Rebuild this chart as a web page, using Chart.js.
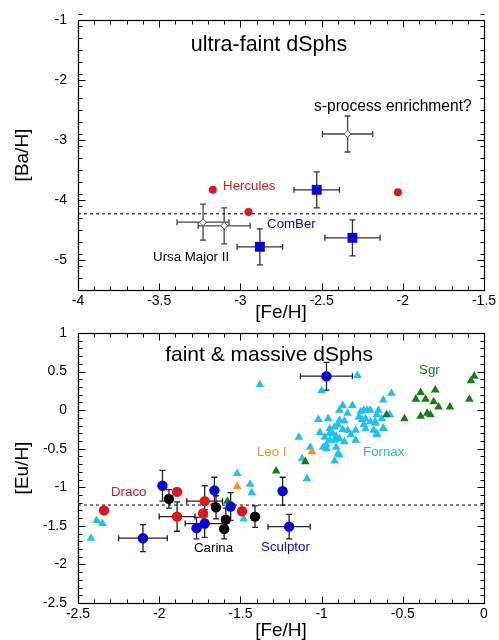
<!DOCTYPE html>
<html><head><meta charset="utf-8">
<script src="https://cdn.jsdelivr.net/npm/chart.js@4.4.1/dist/chart.umd.min.js"></script>
<style>
html,body{margin:0;padding:0;background:#fff;}
#c1{position:absolute;left:0;top:0;}
#c2{position:absolute;left:0;top:322px;}
</style></head><body>
<canvas id="c1" width="499" height="322"></canvas>
<canvas id="c2" width="499" height="318"></canvas>
<script>
// ---------- DATA: top panel (ultra-faint dSphs), [Fe/H] vs [Ba/H] ----------
const topFeTicks = [-4, -3.5, -3, -2.5, -2, -1.5];
const topBaTicks = [-1, -2, -3, -4, -5];
const topFeRange = [-4, -1.5];
const topBaRange = [-5.5, -1];
const herculesBa = [[-3.17, -3.83], [-2.95, -4.20], [-2.03, -3.87]];
const comberBa = [[-2.53, -3.83], [-2.88, -4.78], [-2.31, -4.63]];
const comberBaErr = [[0.14, 0.30], [0.14, 0.30], [0.17, 0.30]];
const umaIIBa = [[-3.23, -4.37], [-3.10, -4.43], [-2.34, -2.90]];
const umaIIBaErr = [[0.16, 0.30], [0.16, 0.30], [0.155, 0.30]];
const baLevel = -4.23;

// ---------- DATA: bottom panel (faint & massive dSphs), [Fe/H] vs [Eu/H] ----------
const botFeTicks = [-2.5, -2, -1.5, -1, -0.5, 0];
const botEuTicks = [1, 0.5, 0, -0.5, -1, -1.5, -2, -2.5];
const botFeRange = [-2.5, 0];
const botEuRange = [-2.5, 1];
const euLevel = -1.23;
const sculptorEu = [[-2.10, -1.66], [-1.98, -0.98], [-1.77, -1.53], [-1.72, -1.47], [-1.66, -1.04],
  [-1.56, -1.25], [-1.24, -1.05], [-1.20, -1.51], [-0.97, 0.44]];
const sculptorEuErr = [[0.15, 0.175], [0, 0.20], [0, 0.14], [0.12, 0.18], [0, 0.17],
  [0, 0.18], [0, 0.18], [0.13, 0.16], [0.16, 0.18]];
const carinaEu = [[-1.94, -1.15], [-1.65, -1.26], [-1.59, -1.42], [-1.60, -1.54], [-1.41, -1.38]];
const carinaEuErr = [[0, 0.12], [0, 0.15], [0, 0.15], [0, 0.13], [0, 0.14]];
const dracoEu = [[-2.34, -1.30], [-1.89, -1.06], [-1.89, -1.38], [-1.72, -1.18], [-1.73, -1.34], [-1.49, -1.31]];
const dracoEuErr = [[0, 0], [0, 0], [0.11, 0.19], [0.11, 0.20], [0, 0], [0, 0]];
const leoIEu = [[-1.52, -0.99], [-1.06, -0.54]];
const sgrEu = [[-1.58, -1.18], [-1.28, -0.79], [-1.10, -0.67], [-0.60, -0.06], [-0.49, -0.11],
  [-0.39, 0.23], [-0.42, 0.14], [-0.36, 0.14], [-0.30, 0.26], [-0.31, 0.11], [-0.28, 0.04],
  [-0.21, 0.04], [-0.35, -0.04], [-0.33, -0.06], [-0.39, -0.08], [-0.09, 0.14], [-0.08, 0.38], [-0.06, 0.44]];
const fornaxEu = [[-2.385, -1.43], [-2.35, -1.47], [-2.42, -1.66],
  [-1.52, -0.82], [-1.44, -0.96], [-1.43, -1.07], [-1.48, -1.41],
  [-1.38, 0.33], [-0.78, 0.45], [-1.00, 0.25],
  [-1.14, -0.35], [-1.07, -0.48], [-1.12, -0.63], [-1.09, -0.89],
  [-1.02, -0.12], [-0.96, -0.11], [-1.01, -0.29],
  [-0.97, -0.45], [-0.97, -0.50], [-0.92, -0.66], [-0.90, -0.57],
  [-0.87, 0.06], [-0.81, 0.06], [-0.89, 0.00], [-0.89, -0.13], [-0.90, -0.19],
  [-0.84, -0.04], [-0.86, -0.14], [-0.95, -0.30], [-0.93, -0.31], [-0.91, -0.34],
  [-0.95, -0.39], [-0.92, -0.39], [-0.89, -0.37], [-0.87, -0.25], [-0.84, -0.26],
  [-0.82, -0.32], [-0.86, -0.41], [-0.79, -0.39], [-0.79, -0.26], [-0.76, -0.02],
  [-0.77, -0.09], [-0.74, 0.00], [-0.72, 0.00], [-0.70, 0.00], [-0.75, -0.12],
  [-0.73, -0.11], [-0.74, -0.19], [-0.73, -0.24], [-0.70, -0.15], [-0.67, -0.15],
  [-0.66, -0.06], [-0.68, -0.26], [-0.66, -0.32], [-0.62, -0.24], [-0.62, 0.13],
  [-0.57, 0.22], [-0.58, -0.06], [-0.63, -0.11], [-0.65, 0.00],
  [-0.92, -0.22], [-0.99, -0.48], [-0.98, -0.35], [-0.95, -0.24],
  [-0.67, -0.17], [-0.66, -0.30], [-0.62, -0.23], [-0.91, -0.48], [-0.89, -0.58]];

// ---------- styling ----------
const FONT = '"Liberation Sans", Arial, Helvetica, sans-serif';
Chart.defaults.font.family = FONT;
Chart.defaults.color = '#000';
const RED = '#e3141c', BLUE = '#0808d8', CYAN = '#1cc2f2', GREEN = '#137f13', ORANGE = '#f7921e';

const toPts = arr => arr.map(p => ({x: p[0], y: p[1]}));

const errorBarPlugin = {
  id: 'errbars',
  beforeDatasetsDraw(chart) {
    const {ctx, scales: {x, y}} = chart;
    ctx.save();
    chart.data.datasets.forEach(ds => {
      if (!ds.errors) return;
      ctx.strokeStyle = ds.errColor || '#333';
      ctx.lineWidth = ds.errWidth || 1.3;
      const cap = 3;
      ds.data.forEach((p, i) => {
        const [xe, ye] = ds.errors[i];
        const px = x.getPixelForValue(p.x), py = y.getPixelForValue(p.y);
        ctx.beginPath();
        if (xe > 0) {
          const a = x.getPixelForValue(p.x - xe), b = x.getPixelForValue(p.x + xe);
          ctx.moveTo(a, py); ctx.lineTo(b, py);
          ctx.moveTo(a, py - cap); ctx.lineTo(a, py + cap);
          ctx.moveTo(b, py - cap); ctx.lineTo(b, py + cap);
        }
        if (ye > 0) {
          const a = y.getPixelForValue(p.y - ye), b = y.getPixelForValue(p.y + ye);
          ctx.moveTo(px, a); ctx.lineTo(px, b);
          ctx.moveTo(px - cap, a); ctx.lineTo(px + cap, a);
          ctx.moveTo(px - cap, b); ctx.lineTo(px + cap, b);
        }
        ctx.stroke();
      });
    });
    ctx.restore();
  }
};

const framePlugin = {
  id: 'frame',
  afterDraw(chart, args, opts) {
    const {ctx, chartArea: a, scales: {x, y}} = chart;
    ctx.save();
    ctx.strokeStyle = '#000';
    ctx.lineWidth = 1.2;
    const L = Math.round(a.left) + 0.5, R = Math.round(a.right) + 0.5;
    const T = Math.round(a.top) + 0.5, B = Math.round(a.bottom) + 0.5;
    ctx.strokeRect(L, T, R - L, B - T);
    ctx.lineWidth = 1;
    ctx.beginPath();
    const tickX = (v, len) => {
      const p = Math.round(x.getPixelForValue(v)) + 0.5;
      ctx.moveTo(p, B); ctx.lineTo(p, B - len);
      ctx.moveTo(p, T); ctx.lineTo(p, T + len);
    };
    const tickY = (v, len) => {
      const p = Math.round(y.getPixelForValue(v)) + 0.5;
      ctx.moveTo(L, p); ctx.lineTo(L + len, p);
      ctx.moveTo(R, p); ctx.lineTo(R - len, p);
    };
    const nx = Math.round((x.max - x.min) / opts.minorX);
    for (let i = 0; i <= nx; i++) tickX(x.min + i * opts.minorX, 4);
    const ny = Math.round((y.max - y.min) / opts.minorY);
    for (let i = 0; i <= ny; i++) tickY(y.min + i * opts.minorY, 4);
    x.ticks.forEach(t => tickX(t.value, 7));
    y.ticks.forEach(t => tickY(t.value, 7));
    ctx.stroke();
    ctx.restore();
  }
};

const textPlugin = {
  id: 'texts',
  afterDatasetsDraw(chart, args, opts) {
    const {ctx, scales: {x, y}} = chart;
    ctx.save();
    ctx.textBaseline = 'middle';
    (opts.items || []).forEach(t => {
      ctx.font = t.size + 'px ' + FONT;
      ctx.fillStyle = t.color;
      ctx.textAlign = t.align || 'left';
      ctx.fillText(t.text, x.getPixelForValue(t.x), y.getPixelForValue(t.y));
    });
    ctx.restore();
  }
};

const fmt = v => String(Math.round(v * 10) / 10);

function axes(xr, xt, yr, yt, xh, ytitle) {
  return {
    x: {
      type: 'linear', min: xr[0], max: xr[1],
      grid: {display: false, drawTicks: false}, border: {display: false},
      ticks: {font: {size: 14}, color: '#000', padding: 3, maxRotation: 0, autoSkip: false, callback: fmt},
      afterBuildTicks: s => { s.ticks = xt.map(v => ({value: v})); },
      afterFit: s => { s.height = xh; s.paddingLeft = 0; s.paddingRight = 0; },
      title: {display: true, text: '[Fe/H]', font: {size: 19, lineHeight: 1.0}, color: '#000', padding: {top: 0, bottom: 0}}
    },
    y: {
      type: 'linear', min: yr[0], max: yr[1],
      grid: {display: false, drawTicks: false}, border: {display: false},
      ticks: {font: {size: 14}, color: '#000', padding: 11, autoSkip: false, callback: fmt},
      afterBuildTicks: s => { s.ticks = yt.map(v => ({value: v})); },
      afterFit: s => { s.width = 78; s.paddingTop = 0; s.paddingBottom = 0; },
      title: {display: true, text: ytitle, font: {size: 19}, color: '#000', padding: {top: 11, bottom: 0}}
    }
  };
}

const common = {
  responsive: false, animation: false, devicePixelRatio: 1,
  plugins: {legend: {display: false}, tooltip: {enabled: false}}
};

// ---------- top chart ----------
new Chart(document.getElementById('c1'), {
  type: 'scatter',
  data: {
    datasets: [
      {label: 'ComBer', data: toPts(comberBa), errors: comberBaErr, errColor: '#333',
        pointStyle: 'rect', pointRadius: 7, backgroundColor: BLUE, borderColor: BLUE, borderWidth: 0},
      {label: 'Hercules', data: toPts(herculesBa),
        pointStyle: 'circle', pointRadius: 4, backgroundColor: RED, borderColor: RED, borderWidth: 0},
      {label: 'UMa II', data: toPts(umaIIBa), errors: umaIIBaErr, errColor: '#444',
        pointStyle: 'rectRot', pointRadius: 3.5, backgroundColor: '#fff', borderColor: '#555', borderWidth: 1},
      {type: 'line', label: 'level', data: [{x: topFeRange[0], y: baLevel}, {x: topFeRange[1], y: baLevel}],
        borderColor: '#000', borderWidth: 1, borderDash: [3, 3], pointRadius: 0}
    ]
  },
  options: Object.assign({}, common, {
    layout: {padding: {top: 20, right: 15, left: 0, bottom: 0}},
    scales: axes(topFeRange, topFeTicks, topBaRange, topBaTicks, 32, '[Ba/H]'),
    plugins: Object.assign({}, common.plugins, {
      frame: {minorX: 0.1, minorY: 0.2},
      texts: {items: [
        {text: 'ultra-faint dSphs', x: -2.824, y: -1.42, size: 21.5, color: '#000', align: 'center'},
        {text: 's-process enrichment?', x: -2.547, y: -2.45, size: 15.6, color: '#000'},
        {text: 'Hercules', x: -3.107, y: -3.78, size: 13.3, color: RED},
        {text: 'ComBer', x: -2.836, y: -4.40, size: 13.3, color: BLUE},
        {text: 'Ursa Major II', x: -3.538, y: -4.95, size: 13.3, color: '#000'}
      ]}
    })
  }),
  plugins: [errorBarPlugin, framePlugin, textPlugin]
});

// ---------- bottom chart ----------
new Chart(document.getElementById('c2'), {
  type: 'scatter',
  data: {
    datasets: [
      {label: 'Sculptor', data: toPts(sculptorEu), errors: sculptorEuErr, errColor: '#222',
        pointStyle: 'circle', pointRadius: 5.2, backgroundColor: BLUE, borderColor: BLUE, borderWidth: 0},
      {label: 'Carina', data: toPts(carinaEu), errors: carinaEuErr, errColor: '#222',
        pointStyle: 'circle', pointRadius: 5.2, backgroundColor: '#000', borderColor: '#000', borderWidth: 0},
      {label: 'Draco', data: toPts(dracoEu), errors: dracoEuErr, errColor: '#222',
        pointStyle: 'circle', pointRadius: 5.2, backgroundColor: RED, borderColor: RED, borderWidth: 0},
      {label: 'Leo I', data: toPts(leoIEu),
        pointStyle: 'triangle', pointRadius: 5, backgroundColor: ORANGE, borderColor: ORANGE, borderWidth: 0},
      {label: 'Sgr', data: toPts(sgrEu),
        pointStyle: 'triangle', pointRadius: 5, backgroundColor: GREEN, borderColor: GREEN, borderWidth: 0},
      {label: 'Fornax', data: toPts(fornaxEu),
        pointStyle: 'triangle', pointRadius: 5, backgroundColor: CYAN, borderColor: CYAN, borderWidth: 0},
      {type: 'line', label: 'level', data: [{x: botFeRange[0], y: euLevel}, {x: botFeRange[1], y: euLevel}],
        borderColor: '#000', borderWidth: 1, borderDash: [3, 3], pointRadius: 0}
    ]
  },
  options: Object.assign({}, common, {
    layout: {padding: {top: 11, right: 15, left: 0, bottom: 0}},
    scales: axes(botFeRange, botFeTicks, botEuRange, botEuTicks, 37, '[Eu/H]'),
    plugins: Object.assign({}, common.plugins, {
      frame: {minorX: 0.1, minorY: 0.1},
      texts: {items: [
        {text: 'faint & massive dSphs', x: -0.684, y: 0.714, size: 21, color: '#000', align: 'right'},
        {text: 'Sgr', x: -0.40, y: 0.52, size: 13.3, color: GREEN},
        {text: 'Fornax', x: -0.745, y: -0.545, size: 13.3, color: CYAN},
        {text: 'Leo I', x: -1.398, y: -0.545, size: 13.3, color: ORANGE},
        {text: 'Draco', x: -2.297, y: -1.065, size: 13.3, color: RED},
        {text: 'Carina', x: -1.786, y: -1.79, size: 13.3, color: '#000'},
        {text: 'Sculptor', x: -1.373, y: -1.78, size: 13.3, color: BLUE}
      ]}
    })
  }),
  plugins: [errorBarPlugin, framePlugin, textPlugin]
});
</script>
</body></html>
